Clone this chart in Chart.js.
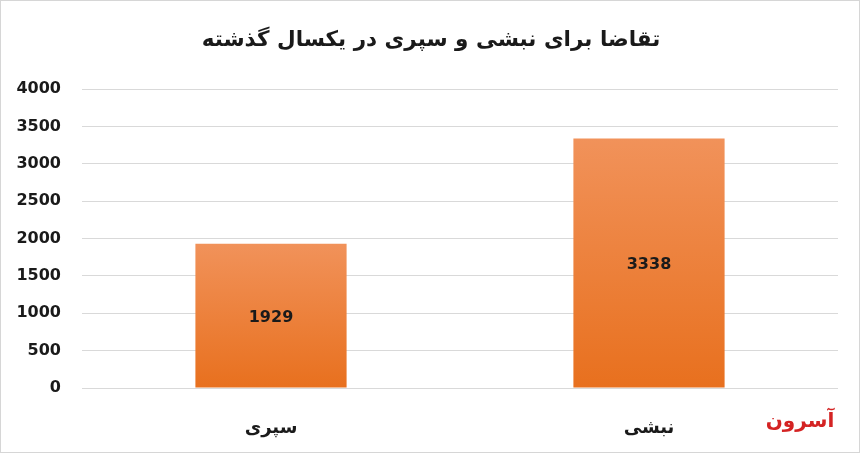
<!DOCTYPE html>
<html>
<head>
<meta charset="utf-8">
<script src="https://cdn.jsdelivr.net/npm/chart.js@4/dist/chart.umd.min.js"></script>
<style>
html,body{margin:0;padding:0;background:#fff;}
#wrap{width:860px;height:453px;position:relative;}
</style>
</head>
<body>
<div id="wrap"><canvas id="c" width="860" height="453"></canvas></div>
<script>
const titleText = 'تقاضا برای نبشی و سپری در یکسال گذشته';
const categories = ['سپری', 'نبشی'];
const demandValues = [1929, 3338];
const yTicks = [0, 500, 1000, 1500, 2000, 2500, 3000, 3500, 4000];
const watermarkText = 'آسرون';

const FONT = '"DejaVu Sans", sans-serif';

const barGradient = (ctx) => {
  const chart = ctx.chart;
  const y = chart.scales && chart.scales.y;
  if (!chart.chartArea || !y || ctx.raw === undefined) return '#EE7E32';
  const top = y.getPixelForValue(ctx.raw);
  const bottom = y.getPixelForValue(0);
  const g = chart.ctx.createLinearGradient(0, top, 0, bottom);
  g.addColorStop(0, '#F1925A');
  g.addColorStop(1, '#E8701E');
  return g;
};

const extras = {
  id: 'extras',
  afterDatasetsDraw(chart) {
    const ctx = chart.ctx;
    const meta = chart.getDatasetMeta(0);
    ctx.save();
    ctx.font = 'bold 16px ' + FONT;
    ctx.fillStyle = '#1a1a1a';
    ctx.textAlign = 'center';
    ctx.textBaseline = 'middle';
    meta.data.forEach((bar, i) => {
      const v = chart.data.datasets[0].data[i];
      ctx.fillText(String(v), bar.x, (bar.y + bar.base) / 2 + 2);
    });
    ctx.restore();
  },
  afterDraw(chart) {
    const ctx = chart.ctx;
    ctx.save();
    ctx.font = 'bold 21.5px ' + FONT;
    ctx.fillStyle = '#1a1a1a';
    ctx.textAlign = 'center';
    ctx.textBaseline = 'middle';
    ctx.direction = 'rtl';
    ctx.fillText(titleText, 431, 40);
    ctx.font = 'bold 20px ' + FONT;
    ctx.fillStyle = '#D42323';
    ctx.fillText(watermarkText, 800, 422);
    ctx.strokeStyle = '#d6d6d6';
    ctx.lineWidth = 1;
    ctx.strokeRect(0.5, 0.5, 859, 452);
    ctx.restore();
  }
};

new Chart(document.getElementById('c'), {
  type: 'bar',
  data: {
    labels: categories,
    datasets: [{
      data: demandValues,
      backgroundColor: barGradient,
      borderWidth: 0,
      categoryPercentage: 0.8,
      barPercentage: 0.5
    }]
  },
  options: {
    responsive: false,
    animation: false,
    devicePixelRatio: 1,
    layout: { padding: { top: 89, right: 22, left: 0, bottom: 0 } },
    plugins: { legend: { display: false }, title: { display: false }, tooltip: { enabled: false } },
    scales: {
      x: {
        grid: { display: false },
        border: { display: false },
        ticks: { color: '#1a1a1a', font: { family: FONT, size: 18, weight: 'bold' }, padding: 22 },
        afterFit(s) { s.height = 65; }
      },
      y: {
        min: 0, max: 4000,
        afterBuildTicks(s) { s.ticks = yTicks.map(v => ({ value: v })); },
        grid: { color: '#d9d9d9', lineWidth: 1, drawTicks: false },
        border: { display: false },
        ticks: { color: '#1a1a1a', font: { family: FONT, size: 16, weight: 'bold' }, padding: 21,
                 callback: (v) => String(v) },
        afterFit(s) { s.width = 82; }
      }
    }
  },
  plugins: [extras]
});
</script>
</body>
</html>
